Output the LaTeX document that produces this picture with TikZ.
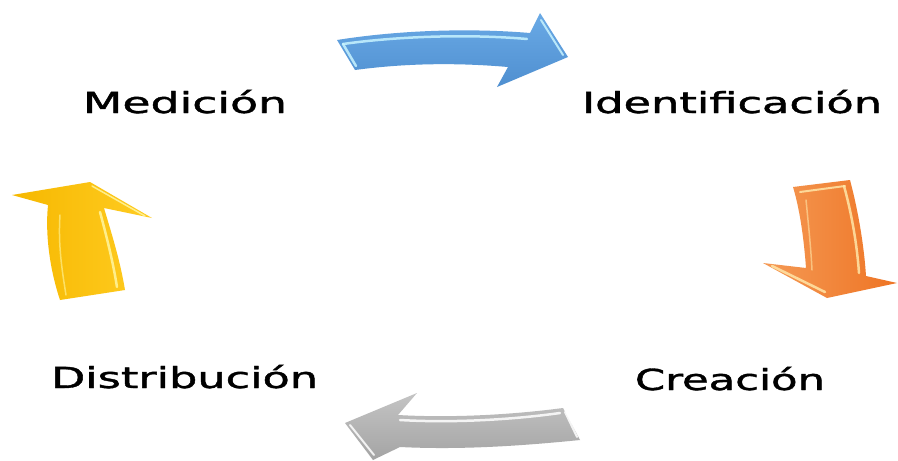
\documentclass[tikz,border=0pt]{standalone}
\usepackage{fontspec}
\usepackage{graphicx}
\newfontfamily\lblfont[BoldFont={DejaVu Sans}, BoldFeatures={FakeBold=1.2}]{DejaVu Sans}
\definecolor{bluedark}{HTML}{4F8FD0}
\definecolor{bluelight}{HTML}{6AAAE6}
\definecolor{bluehi}{HTML}{C8F4FF}
\definecolor{orgdark}{HTML}{EE7424}
\definecolor{orglight}{HTML}{F59A55}
\definecolor{orghi}{HTML}{FFE6A8}
\definecolor{yeldark}{HTML}{F6B800}
\definecolor{yellight}{HTML}{FFCC22}
\definecolor{yelhi}{HTML}{FFF6A0}
\definecolor{graydark}{HTML}{A4A4A4}
\definecolor{graylight}{HTML}{C4C4C4}
\begin{document}
\begin{tikzpicture}[x=1pt,y=-1pt,
  lbl/.style={anchor=base west, inner sep=0pt, outer sep=0pt, text=black},
  hi/.style={line width=2.5pt, line cap=round, line join=round, opacity=0.85}]
\useasboundingbox (0,0) rectangle (898,461);
\fill[white] (0,0) rectangle (898,461);
% labels
\node[lbl] (med) at (83,113) {\resizebox{204pt}{\height}{\fontsize{29}{32}\lblfont\bfseries Medición}};
\node[lbl] (ide) at (582,113) {\resizebox{300pt}{\height}{\fontsize{29}{32}\lblfont\bfseries Identificación}};
\node[lbl] (cre) at (635,390) {\resizebox{190pt}{\height}{\fontsize{29}{32}\lblfont\bfseries Creación}};
\node[lbl] (dis) at (51,388) {\resizebox{267pt}{\height}{\fontsize{29}{32}\lblfont\bfseries Distribución}};
% blue arrow
\shade[top color=bluelight, bottom color=bluedark]
  (337,40) .. controls (400,30) and (470,28) .. (530,33) -- (540,13) -- (568,57)
  -- (497,87) -- (508,67) .. controls (450,62) and (400,64) .. (355,70) -- cycle;
\draw[hi, bluehi] (343,44) .. controls (400,36) and (470,34) .. (527,39);
\draw[hi, bluehi] (343,44) -- (356,66);
\draw[hi, bluehi, line width=2pt] (541,20) -- (563,55);
% orange arrow
\shade[left color=orglight, right color=orgdark]
  (793,187) -- (850,180) .. controls (858,210) and (864,245) .. (866,276)
  -- (897,283) -- (827,298) -- (763,263) -- (806,268)
  .. controls (804,240) and (800,210) .. (793,187) -- cycle;
\draw[hi, orghi] (844,186) .. controls (852,215) and (857,245) .. (859,273);
\draw[hi, orghi, line width=2pt] (800,192) -- (845,186);
\draw[hi, orghi] (772,266) -- (825,292);
\draw[hi, orghi, line width=1.5pt, opacity=0.6] (806,200) .. controls (809,230) and (811,250) .. (812,270);
% yellow arrow
\shade[left color=yeldark, right color=yellight]
  (48,205) -- (12,195) -- (90,182) -- (152,218) -- (104,208)
  .. controls (112,235) and (120,260) .. (125,290) -- (60,300)
  .. controls (50,270) and (45,235) .. (48,205) -- cycle;
\draw[hi, yelhi] (100,212) .. controls (107,238) and (113,262) .. (117,287);
\draw[hi, yelhi, line width=1.5pt, opacity=0.6] (60,215) .. controls (58,245) and (62,270) .. (66,295);
\draw[hi, yelhi, line width=1.5pt] (92,186) -- (145,216);
% gray arrow
\shade[top color=graylight, bottom color=graydark]
  (345,423) -- (417,393) -- (398,415) .. controls (450,418) and (510,415) .. (563,408)
  -- (580,440) .. controls (520,446) and (460,450) .. (400,447) -- (373,460) -- cycle;
\draw[hi, white] (400,420) .. controls (450,423) and (510,420) .. (560,413);
\draw[hi, white, line width=2pt] (350,425) -- (374,455);
\draw[hi, white, line width=2pt] (565,412) -- (577,437);
\end{tikzpicture}
\end{document}
